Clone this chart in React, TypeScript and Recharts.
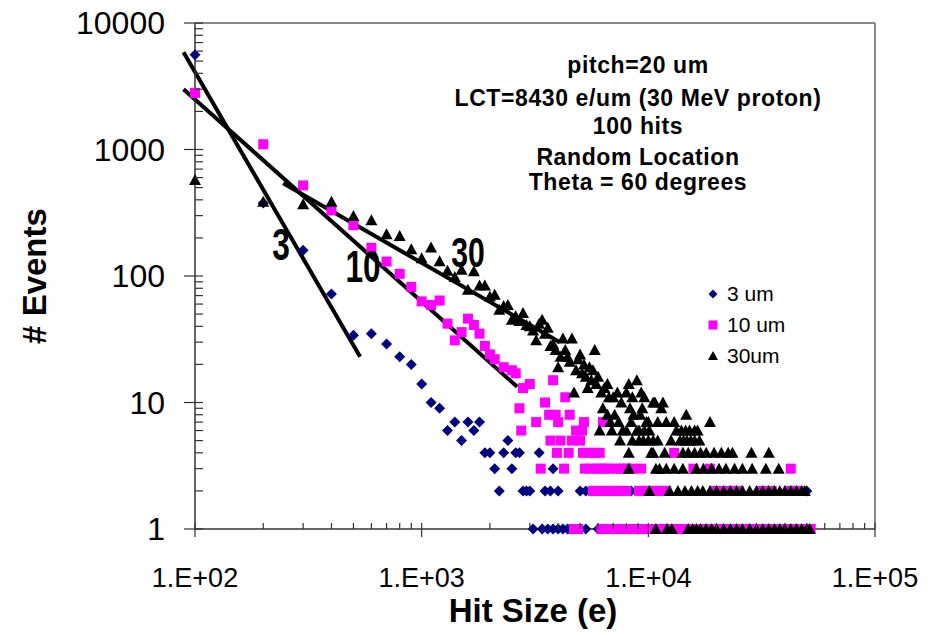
import { ScatterChart, Scatter, XAxis, YAxis, ReferenceLine, Legend } from "recharts"

const FONT = '"Liberation Sans", Arial, Helvetica, sans-serif'

type Pt = { hit: number; events: number }

// 3 um: [hit size, events] for the higher counts, then low-count rows as [events, hit sizes]
const um3Points: [number, number][] = [
    [100, 5600], [200, 378], [300, 160], [400, 72], [500, 34], [600, 35], [700, 29], [800, 23],
    [900, 20], [1000, 14], [1100, 10], [1200, 9],
]
const um3Rows: [number, number[]][] = [
    [7, [1400, 1600, 1800]],
    [6, [1300, 1700]],
    [5, [1500, 2400]],
    [4, [1900, 2000, 2300, 2600, 2700, 3300]],
    [3, [2100, 2500, 3800]],
    [2, [2200, 2800, 2900, 3000, 3500, 3700, 4000, 5000, 5300, 5600, 7200, 8400, 50000]],
    [1, [3100, 3400, 3600, 3800, 4000, 4200, 4400, 4500, 5300, 6000, 7000, 9000, 12000]],
]

// 10 um
const um10Points: [number, number][] = [
    [100, 2800], [200, 1100], [300, 520], [400, 330], [500, 252], [600, 167], [700, 130], [800, 104],
    [900, 82], [1000, 63], [1100, 59], [1200, 64], [1300, 42], [1400, 31], [1500, 36], [1600, 46],
    [1700, 41], [1800, 35], [1900, 28], [2000, 24], [2100, 22], [2300, 19], [2500, 18], [2600, 17],
    [2800, 13], [3000, 14], [3800, 15], [3500, 10], [4300, 11],
]
const um10Rows: [number, number[]][] = [
    [9, [2700]],
    [8, [3650, 3900, 4500]],
    [7, [3200, 4000, 5200, 6300]],
    [6, [2750, 4800, 5100]],
    [5, [3700, 4100, 4600, 5000]],
    [4, [3950, 4450, 5150, 5500, 5800, 6100, 13000]],
    [3, [3350, 4250, 5250, 5550, 5850, 6150, 6450, 6700, 7200, 7600, 8000, 8500, 9300, 15800, 18700, 42500]],
    [2, [5700, 6000, 6300, 6600, 6900, 7100, 7500, 8000, 9100, 9500, 10000, 10500, 11000, 11500, 12000,
        19500, 21000, 22500, 24000, 25000, 31700, 35000, 42000, 44000, 46000]],
    [1, [4700, 4900, 6200, 6600, 7000, 7500, 8000, 8500, 9000, 9600, 10200, 11000, 12000, 13000, 14000,
        15000, 16500, 18000, 19500, 21000, 23000, 25000, 27000, 29000, 31000, 33000, 35000, 38000,
        41000, 44000, 47000, 50000, 52000]],
]

// 30 um
const um30Points: [number, number][] = [
    [100, 574], [200, 387], [300, 369], [400, 387], [500, 298], [600, 276], [700, 214], [800, 207],
    [900, 163], [1000, 138], [1100, 168], [1200, 131], [1300, 110], [1400, 98], [1500, 112], [1600, 78],
    [1700, 109], [1800, 84], [1900, 84], [2000, 69], [2100, 71], [2200, 54], [2300, 58], [2400, 59],
    [2500, 45], [2600, 48], [2700, 44], [2800, 51], [2900, 41], [3000, 40], [3100, 37], [3200, 31],
    [3300, 42], [3400, 45], [3500, 35], [3600, 39], [3700, 28], [3800, 29], [3900, 26], [4000, 19],
    [4100, 23], [4200, 32], [4300, 26], [4400, 23], [4500, 21], [4600, 32], [4700, 12], [4800, 18],
    [4900, 22], [5000, 24], [5100, 17], [5200, 20], [5300, 16], [5400, 13], [5500, 19], [5600, 15],
    [5700, 18], [5800, 26], [5900, 14], [6000, 16], [6200, 12], [6400, 13], [6600, 14], [6700, 11],
    [7000, 11], [7300, 12], [7600, 10], [8000, 12], [8200, 14], [8500, 11], [8900, 15], [9300, 12],
    [9600, 11], [10500, 10], [10700, 10], [11600, 10],
]
const um30Rows: [number, number[]][] = [
    [9, [6300, 8300, 9400, 11400]],
    [8, [6600, 7100, 8600, 9200, 14700]],
    [7, [6800, 7400, 8400, 9800, 10000, 11000, 12000, 13000, 18700]],
    [6, [6100, 6900, 7700, 8000, 8900, 9100, 9600, 10100, 13300, 14000, 14600, 15200, 16000, 16500]],
    [5, [7500, 8500, 9100, 9500, 10000, 10500, 11000, 12600, 13800, 14300, 14800, 15400, 16000, 16800]],
    [4, [8200, 10300, 10500, 11800, 14200, 15000, 16000, 17000, 18000, 19500, 21000, 22500, 23500, 28500, 34000]],
    [3, [8200, 10800, 11200, 12000, 13000, 14200, 16300, 17500, 19000, 20500, 22000, 24000, 26000, 28700, 33000, 37600]],
    [2, [10100, 12400, 13500, 14500, 15500, 16500, 17400, 18700, 20000, 21500, 23000, 24500, 26000, 28000,
        30000, 32000, 34000, 36000, 38000, 40000, 42500, 45000, 47500, 49000]],
    [1, [10800, 12100, 12700, 15000, 15700, 16300, 17000, 18000, 19000, 20000, 21500, 23000, 24500, 26000,
        28000, 30000, 32000, 34000, 36000, 38000, 40000, 42500, 45000, 47500, 50000, 51500]],
]

// power-law fit lines, end points
const fit3 = [{ x: 89, y: 5870 }, { x: 535, y: 23 }]
const fit10 = [{ x: 89, y: 3000 }, { x: 2640, y: 13.3 }]
const fit30 = [{ x: 245, y: 540 }, { x: 4070, y: 30 }]

const xMajors = [100, 1000, 10000, 100000]
const xTicks = [
    100, 200, 300, 400, 500, 600, 700, 800, 900,
    1000, 2000, 3000, 4000, 5000, 6000, 7000, 8000, 9000,
    10000, 20000, 30000, 40000, 50000, 60000, 70000, 80000, 90000, 100000,
]
const yMajors = [1, 10, 100, 1000, 10000]
const yTicks = [
    1, 2, 3, 4, 5, 6, 7, 8, 9, 10, 20, 30, 40, 50, 60, 70, 80, 90,
    100, 200, 300, 400, 500, 600, 700, 800, 900, 1000, 2000, 3000, 4000, 5000, 6000, 7000, 8000, 9000, 10000,
]

const infoLines = ["pitch=20 um", "LCT=8430 e/um (30 MeV proton)", "100 hits", "Random Location", "Theta = 60 degrees"]

function toPoints(pairs: [number, number][], rows: [number, number[]][]): Pt[] {
    const out = pairs.map(([hit, events]) => ({ hit, events }))
    rows.forEach(([events, hits]) => hits.forEach((hit) => out.push({ hit, events })))
    return out
}

const data3 = toPoints(um3Points, um3Rows)
const data10 = toPoints(um10Points, um10Rows)
const data30 = toPoints(um30Points, um30Rows)

const NAVY = "#000080"
const MAGENTA = "#ff00ff"

const Diamond = (p: any) => (
    <polygon points={`${p.cx},${p.cy - 5.5} ${p.cx + 5.5},${p.cy} ${p.cx},${p.cy + 5.5} ${p.cx - 5.5},${p.cy}`} fill={NAVY} />
)
const Square = (p: any) => <rect x={p.cx - 5} y={p.cy - 5} width={10} height={10} fill={MAGENTA} />
const Triangle = (p: any) => (
    <polygon points={`${p.cx},${p.cy - 6} ${p.cx + 6},${p.cy + 5} ${p.cx - 6},${p.cy + 5}`} fill="#000" />
)

function XTick(props: any) {
    const { x, y, payload } = props
    const v = payload.value
    const major = xMajors.includes(v)
    return (
        <g>
            <line x1={x} x2={x} y1={y - 6} y2={major ? y + 8 : y} stroke="#333" strokeWidth={1.2} />
            {major && (
                <text x={x} y={y + 58} textAnchor="middle" fontSize={27} fontFamily={FONT} fill="#000">
                    {`1.E+0${Math.round(Math.log10(v))}`}
                </text>
            )}
        </g>
    )
}

function YTick(props: any) {
    const { x, y, payload } = props
    const v = payload.value
    const major = yMajors.includes(v)
    return (
        <g>
            <line x1={major ? x - 11 : x} x2={x + 8} y1={y} y2={y} stroke="#333" strokeWidth={1.2} />
            {major && (
                <text x={x - 30} y={y + 11} textAnchor="end" fontSize={32} fontFamily={FONT} fill="#000">
                    {v}
                </text>
            )}
        </g>
    )
}

const legendRows = [
    { name: "3 um", icon: <polygon points="10,10.5 14.5,15 10,19.5 5.5,15" fill={NAVY} /> },
    { name: "10 um", icon: <rect x={5.5} y={10.5} width={9} height={9} fill={MAGENTA} /> },
    { name: "30um", icon: <polygon points="10,10 15,19 5,19" fill="#000" /> },
]

function LegendBox() {
    return (
        <div style={{ fontFamily: FONT, fontSize: 21, color: "#000" }}>
            {legendRows.map((r) => (
                <div key={r.name} style={{ display: "flex", alignItems: "center", height: 31 }}>
                    <svg width={20} height={30}>{r.icon}</svg>
                    <span style={{ marginLeft: 4 }}>{r.name}</span>
                </div>
            ))}
        </div>
    )
}

export default function App() {
    return (
        <div style={{ position: "absolute", left: 0, top: 0, width: 939, height: 635, background: "#fff" }}>
            <ScatterChart width={939} height={635} margin={{ top: 23, right: 64, bottom: 76, left: 135 }}>
                <XAxis
                    type="number"
                    dataKey="hit"
                    scale="log"
                    domain={[100, 100000]}
                    ticks={xTicks}
                    interval={0}
                    height={30}
                    tickSize={0}
                    tickMargin={0}
                    tickLine={false}
                    tick={<XTick />}
                    axisLine={{ stroke: "#333", strokeWidth: 1.5 }}
                />
                <YAxis
                    type="number"
                    dataKey="events"
                    scale="log"
                    domain={[1, 10000]}
                    ticks={yTicks}
                    interval={0}
                    width={60}
                    tickSize={0}
                    tickMargin={0}
                    tickLine={false}
                    tick={<YTick />}
                    axisLine={{ stroke: "#333", strokeWidth: 1.5 }}
                />
                <ReferenceLine y={10000} stroke="#888" strokeWidth={2} />
                <ReferenceLine x={100000} stroke="#888" strokeWidth={2} />
                <Scatter name="3 um" data={data3} shape={Diamond} isAnimationActive={false} />
                <Scatter name="10 um" data={data10} shape={Square} isAnimationActive={false} />
                <Scatter name="30um" data={data30} shape={Triangle} isAnimationActive={false} />
                <ReferenceLine segment={fit3} stroke="#000" strokeWidth={4} ifOverflow="visible" />
                <ReferenceLine segment={fit10} stroke="#000" strokeWidth={4} ifOverflow="visible" />
                <ReferenceLine segment={fit30} stroke="#000" strokeWidth={4} ifOverflow="visible" />
                <Legend
                    layout="vertical"
                    align="center"
                    verticalAlign="middle"
                    content={<LegendBox />}
                    wrapperStyle={{ left: 703, top: 278, width: 110 }}
                />
            </ScatterChart>
            <svg
                width={939}
                height={635}
                style={{ position: "absolute", left: 0, top: 0, pointerEvents: "none" }}
                fontFamily={FONT}
            >
                {infoLines.map((t, i) => (
                    <text
                        key={t}
                        x={638}
                        y={[73, 106, 134, 165, 190][i]}
                        textAnchor="middle"
                        fontSize={23}
                        fontWeight="bold"
                        letterSpacing={0.6}
                    >
                        {t}
                    </text>
                ))}
                <text transform="translate(281,260) scale(0.72,1)" textAnchor="middle" fontSize={44} fontWeight="bold">3</text>
                <text transform="translate(363,282) scale(0.72,1)" textAnchor="middle" fontSize={44} fontWeight="bold">10</text>
                <text transform="translate(468,267) scale(0.72,1)" textAnchor="middle" fontSize={42} fontWeight="bold">30</text>
                <text x={533} y={622} textAnchor="middle" fontSize={33} fontWeight="bold">Hit Size (e)</text>
                <text transform="translate(46,276) rotate(-90)" textAnchor="middle" fontSize={33} fontWeight="bold"># Events</text>
            </svg>
        </div>
    )
}
